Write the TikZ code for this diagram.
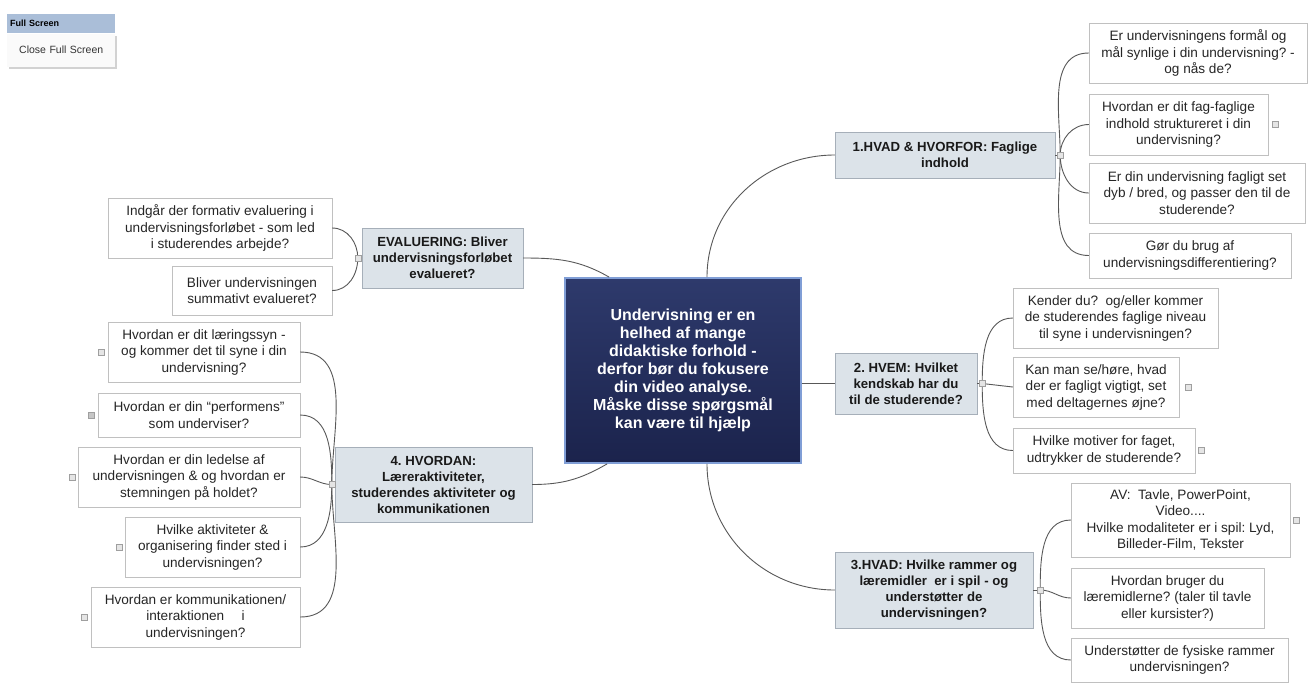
\documentclass[tikz,border=0pt]{standalone}
\usepackage{fontspec}
\setmainfont{Liberation Sans}
\usepackage{tikz}
\usetikzlibrary{positioning,calc,shadows}
\frenchspacing

\definecolor{navytop}{RGB}{46,58,108}
\definecolor{navybot}{RGB}{27,35,76}
\definecolor{navyedge}{RGB}{128,158,214}
\definecolor{topicgray}{RGB}{220,227,233}
\definecolor{topicedge}{RGB}{166,175,185}
\definecolor{leafedge}{RGB}{192,192,192}
\definecolor{branchgray}{RGB}{88,88,88}
\definecolor{fsblue}{RGB}{170,190,216}

\tikzset{
  leaf/.style={draw=leafedge, fill=white, align=center, inner sep=2pt, text=black!85,
    font=\fontsize{13.6}{16.5}\selectfont},
  topic/.style={draw=topicedge, fill=topicgray, align=center, inner sep=2pt, text=black!90,
    font=\bfseries\fontsize{13.2}{16}\selectfont},
  kernebox/.style={draw=navyedge, line width=1.8pt, top color=navytop, bottom color=navybot,
    text=white, align=center, font=\bfseries\fontsize{16}{18}\selectfont},
  knap/.style={draw=gray!75, fill=gray!20, minimum size=6pt, inner sep=0pt},
  branch/.style={draw=branchgray, line width=0.9pt},
}

\begin{document}
\begin{tikzpicture}[x=1pt, y=-1pt]
\path[fill=white, use as bounding box] (0,0) rectangle (1308,689);

% full screen menu
\node[anchor=north west, fill=fsblue, text width=102pt, inner xsep=3pt, minimum height=19pt,
  align=left, font=\bfseries\fontsize{9}{10}\selectfont] (fuldskaerm) at (7,14) {Full Screen};
\node[below=0pt of fuldskaerm, fill=gray!4, text width=102pt, inner xsep=3pt, minimum height=33pt,
  align=center, font=\fontsize{10.5}{12}\selectfont, text=black!80,
  drop shadow={shadow xshift=2pt, shadow yshift=-2pt, opacity=0.35}] (lukskaerm) {Close Full Screen};

% centre
\node[kernebox, minimum width=236pt, minimum height=185pt] (kerne) at (683,370.5)
  {Undervisning er en\\helhed af mange\\didaktiske forhold -\\derfor bør du fokusere\\din video analyse.\\Måske disse spørgsmål\\kan være til hjælp};

% main topics
\node[topic, minimum width=220pt, minimum height=46pt] (hvad) at (945,155)
  {1.HVAD \& HVORFOR: Faglige\\indhold};
\node[topic, minimum width=142pt, minimum height=61pt] (hvem) at (906,383.5)
  {2. HVEM: Hvilket\\kendskab har du\\til de studerende?};
\node[topic, minimum width=198pt, minimum height=76pt] (rammer) at (934,590)
  {3.HVAD: Hvilke rammer og\\læremidler\ \ er i spil - og\\understøtter de\\undervisningen?};
\node[topic, minimum width=197pt, minimum height=75pt] (hvordan) at (433.5,484.5)
  {4. HVORDAN:\\Læreraktiviteter,\\studerendes aktiviteter og\\kommunikationen};
\node[topic, minimum width=161pt, minimum height=60pt] (evaluering) at (442.5,258)
  {EVALUERING: Bliver\\undervisningsforløbet\\evalueret?};

% leaves, 1
\node[leaf, minimum width=218pt, minimum height=60pt] (hv1) at (1198,53)
  {Er undervisningens formål og\\mål synlige i din undervisning? -\\og nås de?};
\node[leaf, minimum width=179pt, minimum height=61pt] (hv2) at (1178.5,124.5)
  {Hvordan er dit fag-faglige\\indhold struktureret i din\\undervisning?};
\node[leaf, minimum width=216pt, minimum height=60pt] (hv3) at (1197,193)
  {Er din undervisning fagligt set\\dyb / bred, og passer den til de\\studerende?};
\node[leaf, minimum width=202pt, minimum height=45pt] (hv4) at (1190,255.5)
  {Gør du brug af\\undervisningsdifferentiering?};

% leaves, 2
\node[leaf, minimum width=205pt, minimum height=60pt] (hm1) at (1115.5,318)
  {Kender du?\ \ og/eller kommer\\de studerendes faglige niveau\\til syne i undervisningen?};
\node[leaf, minimum width=166pt, minimum height=60pt] (hm2) at (1096,387)
  {Kan man se/høre, hvad\\der er fagligt vigtigt, set\\med deltagernes øjne?};
\node[leaf, minimum width=182pt, minimum height=45pt] (hm3) at (1104,450.5)
  {Hvilke motiver for faget,\\udtrykker de studerende?};

% leaves, 3
\node[leaf, minimum width=219pt, minimum height=74pt] (ra1) at (1180.5,520)
  {AV:\ \ Tavle, PowerPoint,\\Video....\\Hvilke modaliteter er i spil: Lyd,\\Billeder-Film, Tekster};
\node[leaf, minimum width=193pt, minimum height=60pt] (ra2) at (1167.5,598)
  {Hvordan bruger du\\læremidlerne? (taler til tavle\\eller kursister?)};
\node[leaf, minimum width=217pt, minimum height=44pt] (ra3) at (1179.5,660)
  {Understøtter de fysiske rammer\\undervisningen?};

% leaves, 4
\node[leaf, minimum width=192pt, minimum height=60pt] (ho1) at (204,352)
  {Hvordan er dit læringssyn -\\og kommer det til syne i din\\undervisning?};
\node[leaf, minimum width=202pt, minimum height=44pt] (ho2) at (199,415)
  {Hvordan er din ``performens''\\som underviser?};
\node[leaf, minimum width=222pt, minimum height=60pt] (ho3) at (189,477)
  {Hvordan er din ledelse af\\undervisningen \& og hvordan er\\stemningen på holdet?};
\node[leaf, minimum width=175pt, minimum height=60pt] (ho4) at (212.5,547)
  {Hvilke aktiviteter \&\\organisering finder sted i\\undervisningen?};
\node[leaf, minimum width=209pt, minimum height=60pt] (ho5) at (195.5,617)
  {Hvordan er kommunikationen/\\interaktionen\quad\ i\\undervisningen?};

% evaluering leaves
\node[leaf, minimum width=224pt, minimum height=60pt] (ev1) at (220,228)
  {Indgår der formativ evaluering i\\undervisningsforløbet - som led\\i studerendes arbejde?};
\node[leaf, minimum width=160pt, minimum height=49pt] (ev2) at (252,290.5)
  {Bliver undervisningen\\summativt evalueret?};

% branch points
\coordinate (jhv) at ([xshift=5pt]hvad.east);
\coordinate (jhm) at ([xshift=5pt]hvem.east);
\coordinate (jra) at ([xshift=7pt]rammer.east);
\coordinate (jho) at ([xshift=-3pt]hvordan.west);
\coordinate (jev) at ([xshift=-4pt]evaluering.west);

% centre to topics
\draw[branch] ([xshift=24pt]kerne.north) to[out=90, in=180] (hvad.west);
\draw[branch] (kerne.east |- hvem.west) -- (hvem.west);
\draw[branch] ([xshift=24pt]kerne.south) to[out=-90, in=180] (rammer.west);
\draw[branch] (evaluering.east) to[out=0, in=150] ([xshift=45pt]kerne.north west);
\draw[branch] (hvordan.east) to[out=0, in=-150] ([xshift=43pt]kerne.south west);

% topics to leaves
\draw[branch] (hvad.east) -- (jhv);
\draw[branch] (jhv) to[out=90, in=180] (hv1.west);
\draw[branch] (jhv) to[out=90, in=180] (hv2.west);
\draw[branch] (jhv) to[out=-90, in=180] (hv3.west);
\draw[branch] (jhv) to[out=-90, in=180] (hv4.west);

\draw[branch] (hvem.east) -- (jhm);
\draw[branch] (jhm) to[out=90, in=180] (hm1.west);
\draw[branch] (jhm) -- (hm2.west);
\draw[branch] (jhm) to[out=-90, in=180] (hm3.west);

\draw[branch] (rammer.east) -- (jra);
\draw[branch] (jra) to[out=90, in=180] (ra1.west);
\draw[branch] (jra) to[out=0, in=180] (ra2.west);
\draw[branch] (jra) to[out=-90, in=180] (ra3.west);

\draw[branch] (hvordan.west) -- (jho);
\draw[branch] (ho1.east) to[out=0, in=90] (jho);
\draw[branch] (ho2.east) to[out=0, in=90] (jho);
\draw[branch] (ho3.east) to[out=0, in=180] (jho);
\draw[branch] (ho4.east) to[out=0, in=-90] (jho);
\draw[branch] (ho5.east) to[out=0, in=-90] (jho);

\draw[branch] (evaluering.west) -- (jev);
\draw[branch] (ev1.east) to[out=0, in=90] (jev);
\draw[branch] (ev2.east) to[out=0, in=-90] (jev);

% collapse buttons
\node[knap] (k-hv) at (jhv) {};
\node[knap] (k-hm) at (jhm) {};
\node[knap] (k-ra) at (jra) {};
\node[knap] (k-ho) at (jho) {};
\node[knap] (k-ev) at (jev) {};
\node[knap, right=4pt of hv2] (k-hv2) {};
\node[knap, right=6pt of hm2] (k-hm2) {};
\node[knap, right=3pt of hm3] (k-hm3) {};
\node[knap, right=3pt of ra1] (k-ra1) {};
\node[knap, left=3pt of ho1] (k-ho1) {};
\node[knap, left=3pt of ho2, fill=gray!45] (k-ho2) {};
\node[knap, left=2pt of ho3] (k-ho3) {};
\node[knap, left=2pt of ho4] (k-ho4) {};
\node[knap, left=3pt of ho5] (k-ho5) {};
\end{tikzpicture}
\end{document}
